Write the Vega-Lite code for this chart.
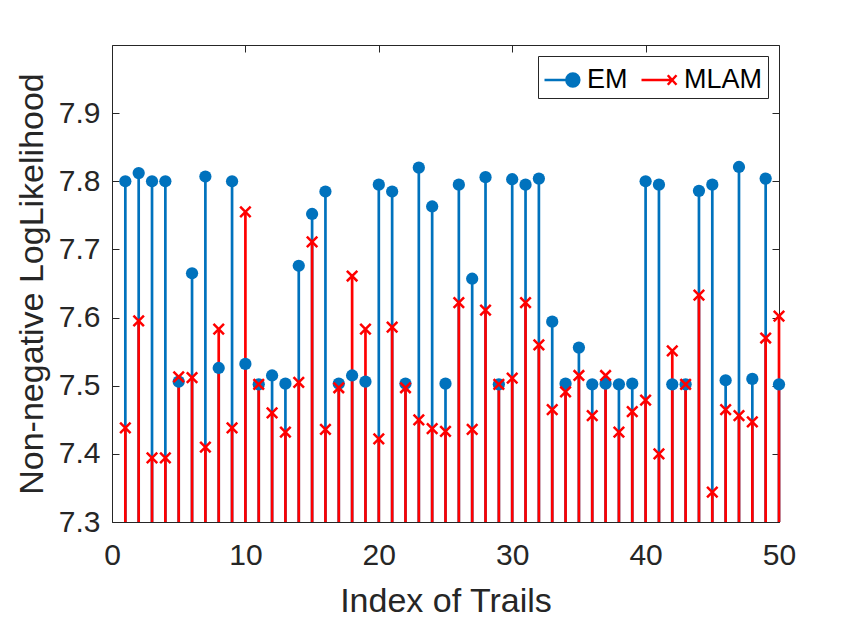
{
  "$schema": "https://vega.github.io/schema/vega-lite/v6.json",
  "width": 667,
  "height": 477,
  "autosize": {"type": "none"},
  "padding": {"left": 112, "top": 45, "right": 82, "bottom": 97},
  "background": "white",
  "config": {
    "view": {"stroke": null},
    "font": "Liberation Sans",
    "axis": {
      "domainColor": "#262626",
      "domainWidth": 1,
      "tickColor": "#262626",
      "tickWidth": 1,
      "tickSize": -7,
      "grid": false,
      "labelFlush": false,
      "labelColor": "#262626",
      "labelFont": "Liberation Sans",
      "labelFontSize": 30,
      "titleColor": "#262626",
      "titleFont": "Liberation Sans",
      "titleFontSize": 34,
      "titleFontWeight": "normal"
    }
  },
  "datasets": {
    "trails": [
      {"i": 1, "EM": 7.800, "MLAM": 7.438},
      {"i": 2, "EM": 7.812, "MLAM": 7.595},
      {"i": 3, "EM": 7.800, "MLAM": 7.394},
      {"i": 4, "EM": 7.800, "MLAM": 7.394},
      {"i": 5, "EM": 7.506, "MLAM": 7.513},
      {"i": 6, "EM": 7.665, "MLAM": 7.512},
      {"i": 7, "EM": 7.807, "MLAM": 7.410},
      {"i": 8, "EM": 7.526, "MLAM": 7.583},
      {"i": 9, "EM": 7.800, "MLAM": 7.438},
      {"i": 10, "EM": 7.532, "MLAM": 7.755},
      {"i": 11, "EM": 7.502, "MLAM": 7.502},
      {"i": 12, "EM": 7.515, "MLAM": 7.460},
      {"i": 13, "EM": 7.503, "MLAM": 7.432},
      {"i": 14, "EM": 7.676, "MLAM": 7.505},
      {"i": 15, "EM": 7.752, "MLAM": 7.711},
      {"i": 16, "EM": 7.785, "MLAM": 7.436},
      {"i": 17, "EM": 7.503, "MLAM": 7.497},
      {"i": 18, "EM": 7.515, "MLAM": 7.661},
      {"i": 19, "EM": 7.506, "MLAM": 7.583},
      {"i": 20, "EM": 7.795, "MLAM": 7.422},
      {"i": 21, "EM": 7.785, "MLAM": 7.586},
      {"i": 22, "EM": 7.503, "MLAM": 7.497},
      {"i": 23, "EM": 7.820, "MLAM": 7.450},
      {"i": 24, "EM": 7.763, "MLAM": 7.437},
      {"i": 25, "EM": 7.503, "MLAM": 7.433},
      {"i": 26, "EM": 7.795, "MLAM": 7.622},
      {"i": 27, "EM": 7.657, "MLAM": 7.436},
      {"i": 28, "EM": 7.806, "MLAM": 7.611},
      {"i": 29, "EM": 7.502, "MLAM": 7.502},
      {"i": 30, "EM": 7.803, "MLAM": 7.511},
      {"i": 31, "EM": 7.795, "MLAM": 7.622},
      {"i": 32, "EM": 7.804, "MLAM": 7.560},
      {"i": 33, "EM": 7.594, "MLAM": 7.465},
      {"i": 34, "EM": 7.503, "MLAM": 7.491},
      {"i": 35, "EM": 7.556, "MLAM": 7.515},
      {"i": 36, "EM": 7.502, "MLAM": 7.456},
      {"i": 37, "EM": 7.503, "MLAM": 7.515},
      {"i": 38, "EM": 7.502, "MLAM": 7.432},
      {"i": 39, "EM": 7.503, "MLAM": 7.462},
      {"i": 40, "EM": 7.800, "MLAM": 7.479},
      {"i": 41, "EM": 7.795, "MLAM": 7.400},
      {"i": 42, "EM": 7.502, "MLAM": 7.551},
      {"i": 43, "EM": 7.502, "MLAM": 7.502},
      {"i": 44, "EM": 7.786, "MLAM": 7.633},
      {"i": 45, "EM": 7.795, "MLAM": 7.344},
      {"i": 46, "EM": 7.508, "MLAM": 7.465},
      {"i": 47, "EM": 7.821, "MLAM": 7.456},
      {"i": 48, "EM": 7.510, "MLAM": 7.447},
      {"i": 49, "EM": 7.804, "MLAM": 7.570},
      {"i": 50, "EM": 7.502, "MLAM": 7.602}
    ],
    "methods": [
      {"m": "EM"},
      {"m": "MLAM"}
    ]
  },
  "data": {"name": "trails"},
  "layer": [
    {
      "mark": {"type": "rule", "color": "#0072BD", "strokeWidth": 2.7},
      "encoding": {
        "x": {
          "field": "i", "type": "quantitative",
          "scale": {"domain": [0, 50], "nice": false},
          "axis": {"orient": "bottom", "values": [0, 10, 20, 30, 40, 50], "title": "Index of Trails", "labelPadding": 25, "titlePadding": 14}
        },
        "y": {
          "field": "EM", "type": "quantitative",
          "scale": {"domain": [7.3, 8.0], "nice": false, "zero": false},
          "axis": {"orient": "left", "values": [7.3, 7.4, 7.5, 7.6, 7.7, 7.8, 7.9], "format": ".1f", "title": "Non-negative LogLikelihood", "labelPadding": 19, "titlePadding": 9}
        },
        "y2": {"datum": 7.3}
      }
    },
    {
      "mark": {"type": "rule", "color": "#FF0000", "strokeWidth": 2.7},
      "encoding": {
        "x": {
          "field": "i", "type": "quantitative",
          "axis": {"orient": "top", "values": [0, 10, 20, 30, 40, 50], "labels": false, "title": null}
        },
        "y": {
          "field": "MLAM", "type": "quantitative",
          "axis": {"orient": "right", "values": [7.3, 7.4, 7.5, 7.6, 7.7, 7.8, 7.9], "labels": false, "title": null}
        },
        "y2": {"datum": 7.3}
      }
    },
    {
      "mark": {"type": "point", "shape": "circle", "filled": true, "color": "#0072BD", "opacity": 1, "size": 150},
      "encoding": {
        "x": {"field": "i", "type": "quantitative", "axis": null},
        "y": {"field": "EM", "type": "quantitative", "axis": null}
      }
    },
    {
      "mark": {"type": "point", "shape": "M -1 -1 L 1 1 M -1 1 L 1 -1", "filled": false, "color": "#FF0000", "opacity": 1, "strokeWidth": 2.5, "size": 110},
      "encoding": {
        "x": {"field": "i", "type": "quantitative", "axis": null},
        "y": {"field": "MLAM", "type": "quantitative", "axis": null}
      }
    },
    {
      "data": {"name": "methods"},
      "transform": [{"filter": "false"}],
      "mark": {"type": "point", "filled": true, "opacity": 1},
      "encoding": {
        "color": {
          "field": "m", "type": "nominal",
          "scale": {"domain": ["EM", "MLAM"], "range": ["#0072BD", "#FF0000"]},
          "legend": {
            "title": null,
            "orient": "top-right",
            "direction": "horizontal",
            "offset": 11,
            "strokeColor": "#262626",
            "fillColor": "white",
            "padding": 5,
            "labelFont": "Liberation Sans",
            "labelFontSize": 27,
            "labelColor": "black",
            "labelOffset": 6,
            "columnPadding": 8,
            "symbolSize": 1225,
            "symbolStrokeWidth": 2.5,
            "symbolOpacity": 1,
            "encode": {
              "symbols": {"update": {"stroke": {"scale": "color", "field": "value"}, "strokeWidth": {"value": 2.5}}}
            }
          }
        },
        "shape": {
          "field": "m", "type": "nominal",
          "scale": {
            "domain": ["EM", "MLAM"],
            "range": [
              "M -1 0 L 0.62 0 M 0.99 0 A 0.37 0.37 0 1 1 0.25 0 A 0.37 0.37 0 1 1 0.99 0 Z",
              "M -1 0 L 0.75 0 M 0.5 -0.27 L 1 0.27 M 0.5 0.27 L 1 -0.27"
            ]
          }
        }
      }
    }
  ]
}
